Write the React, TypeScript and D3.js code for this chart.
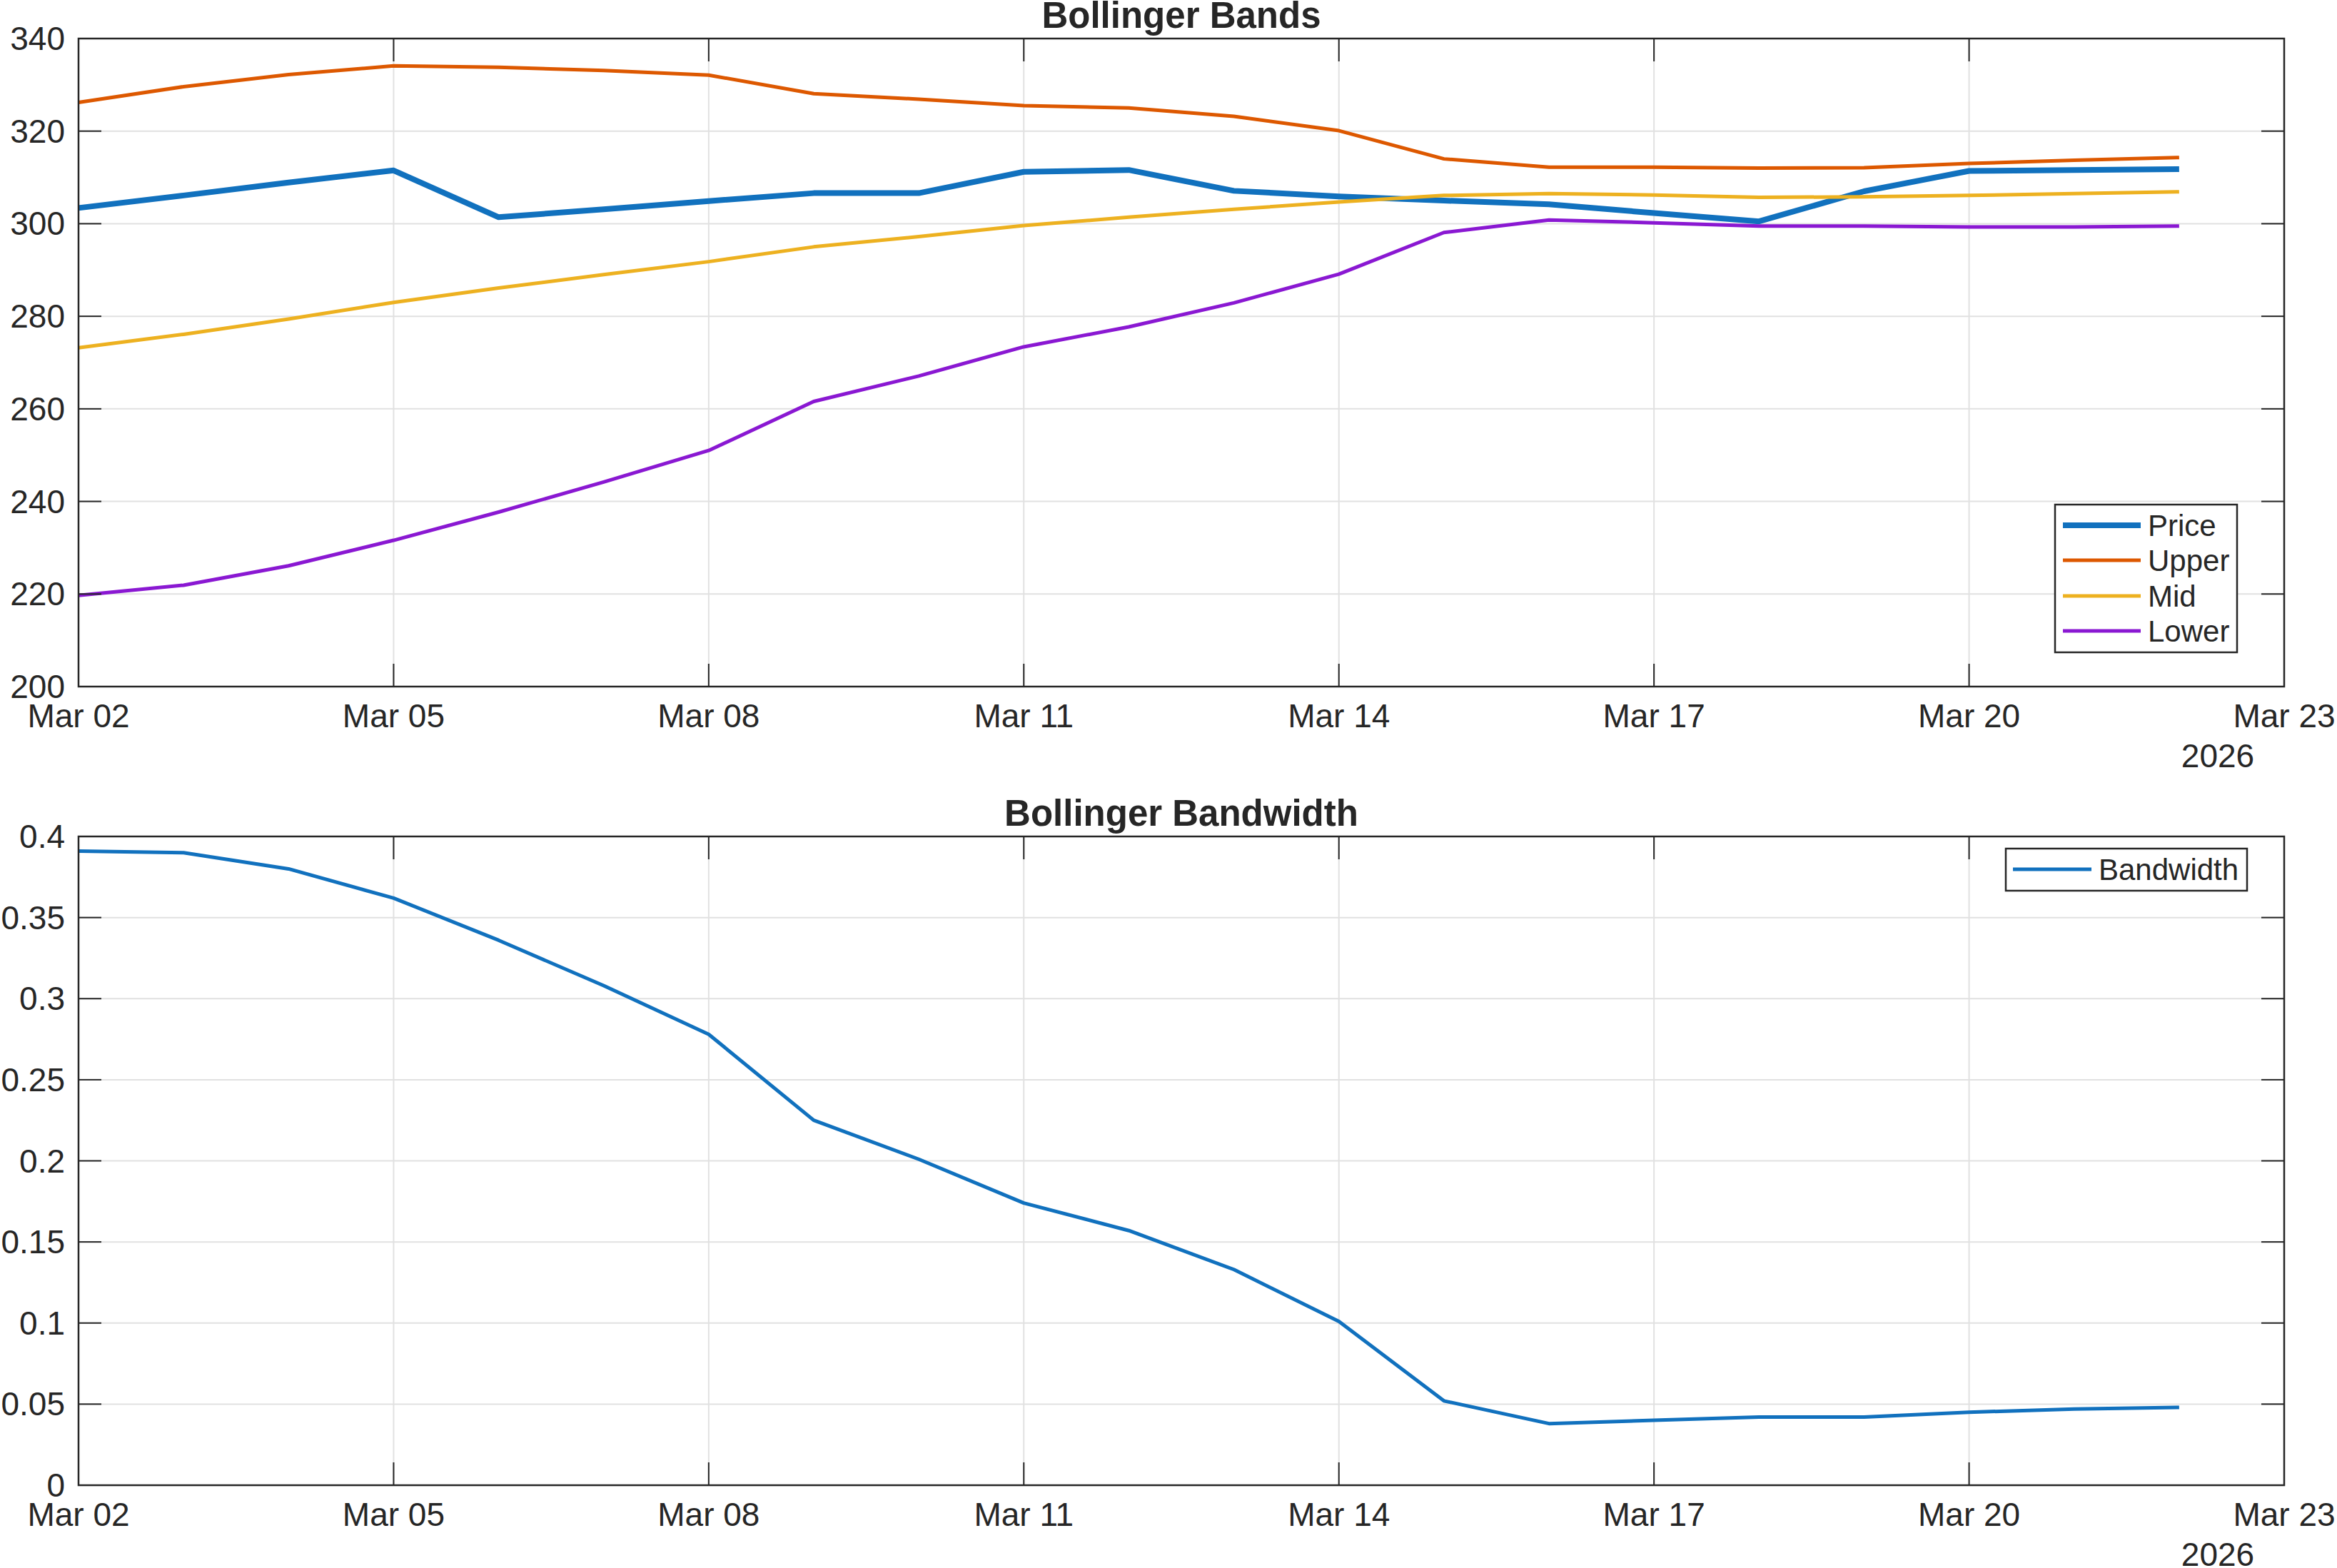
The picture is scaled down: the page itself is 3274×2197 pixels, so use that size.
import * as d3 from "d3";

const W = 3274;
const H = 2197;

// daily observations, Mar 02 .. Mar 22 2026
const days = [2, 3, 4, 5, 6, 7, 8, 9, 10, 11, 12, 13, 14, 15, 16, 17, 18, 19, 20, 21, 22];
const price = [303.4, 306.1, 308.9, 311.5, 301.4, 303.1, 304.9, 306.6, 306.6, 311.2, 311.6, 307.1, 305.9, 305.0, 304.2, 302.3, 300.5, 307.0, 311.4, 311.6, 311.8];
const upper = [326.2, 329.6, 332.2, 334.1, 333.8, 333.1, 332.1, 328.1, 326.9, 325.5, 325.0, 323.2, 320.1, 314.0, 312.2, 312.2, 312.0, 312.1, 313.0, 313.7, 314.3];
const mid = [273.2, 276.1, 279.4, 283.0, 286.1, 289.0, 291.8, 295.0, 297.2, 299.6, 301.4, 303.1, 304.7, 306.1, 306.5, 306.2, 305.7, 305.8, 306.1, 306.5, 306.9];
const lower = [219.7, 221.9, 226.1, 231.6, 237.7, 244.2, 251.0, 261.6, 267.1, 273.4, 277.7, 282.9, 289.1, 298.1, 300.8, 300.2, 299.5, 299.5, 299.3, 299.3, 299.5];
const bandwidth = [0.391, 0.390, 0.380, 0.362, 0.336, 0.308, 0.278, 0.225, 0.201, 0.174, 0.157, 0.133, 0.101, 0.052, 0.038, 0.040, 0.042, 0.042, 0.045, 0.047, 0.048];

const xTickDays = [2, 5, 8, 11, 14, 17, 20, 23];
const priceTicks = [200, 220, 240, 260, 280, 300, 320, 340];
const bwTicks = [0, 0.05, 0.1, 0.15, 0.2, 0.25, 0.3, 0.35, 0.4];
const yearLabel = "2026";

const C = {
  blue: "#1171be",
  orange: "#dd5800",
  yellow: "#edb120",
  purple: "#8a18d2",
  axis: "#262626",
  grid: "#e1e1e1",
};
const FONT = "'Liberation Sans', Arial, Helvetica, sans-serif";

const toDate = (d: number) => new Date(2026, 2, d);

const x = d3.scaleTime().domain([toDate(2), toDate(23)]).range([110, 3200]);
const fmt = d3.timeFormat("%b %d");

type Series = { name: string; values: number[]; color: string; width: number };

function Panel(props: {
  top: number;
  bottom: number;
  domain: [number, number];
  ticks: number[];
  tickFmt: (v: number) => string;
  title: string;
  series: Series[];
  legend: { x0: number; y0: number; x1: number; y1: number; lineX0: number; lineX1: number; textX: number; rows: number[] };
}) {
  const { top, bottom, domain, ticks, tickFmt, title, series, legend } = props;
  const y = d3.scaleLinear().domain(domain).range([bottom, top]);
  const [x0, x1] = x.range();
  const tl = 32;
  const line = (vals: number[]) =>
    d3
      .line<number>()
      .x((_, i) => x(toDate(days[i])))
      .y((v) => y(v))(vals) || "";

  return (
    <g>
      {/* grid */}
      {xTickDays.map((d) => (
        <line key={"gx" + d} x1={x(toDate(d))} x2={x(toDate(d))} y1={top} y2={bottom} stroke={C.grid} strokeWidth={2} />
      ))}
      {ticks.map((t) => (
        <line key={"gy" + t} x1={x0} x2={x1} y1={y(t)} y2={y(t)} stroke={C.grid} strokeWidth={2} />
      ))}

      {/* data */}
      {series.map((s) => (
        <path key={s.name} d={line(s.values)} fill="none" stroke={s.color} strokeWidth={s.width} strokeLinejoin="round" />
      ))}

      {/* box + ticks */}
      <rect x={x0} y={top} width={x1 - x0} height={bottom - top} fill="none" stroke={C.axis} strokeWidth={2.5} />
      {xTickDays.map((d) => (
        <g key={"tx" + d}>
          <line x1={x(toDate(d))} x2={x(toDate(d))} y1={bottom} y2={bottom - tl} stroke={C.axis} strokeWidth={2} />
          <line x1={x(toDate(d))} x2={x(toDate(d))} y1={top} y2={top + tl} stroke={C.axis} strokeWidth={2} />
          <text x={x(toDate(d))} y={bottom + 57} textAnchor="middle" fontSize={46} fill={C.axis} fontFamily={FONT}>
            {fmt(toDate(d))}
          </text>
        </g>
      ))}
      {ticks.map((t) => (
        <g key={"ty" + t}>
          <line x1={x0} x2={x0 + tl} y1={y(t)} y2={y(t)} stroke={C.axis} strokeWidth={2} />
          <line x1={x1} x2={x1 - tl} y1={y(t)} y2={y(t)} stroke={C.axis} strokeWidth={2} />
          <text x={x0 - 19} y={y(t) + 16} textAnchor="end" fontSize={46} fill={C.axis} fontFamily={FONT}>
            {tickFmt(t)}
          </text>
        </g>
      ))}
      <text x={3107} y={bottom + 113} textAnchor="middle" fontSize={46} fill={C.axis} fontFamily={FONT}>
        {yearLabel}
      </text>
      <text x={(x0 + x1) / 2} y={top - 15} textAnchor="middle" fontSize={51} fontWeight="bold" fill={C.axis} fontFamily={FONT}>
        {title}
      </text>

      {/* legend */}
      <rect x={legend.x0} y={legend.y0} width={legend.x1 - legend.x0} height={legend.y1 - legend.y0} fill="#fff" stroke={C.axis} strokeWidth={2.5} />
      {series.map((s, i) => (
        <g key={"lg" + s.name}>
          <line x1={legend.lineX0} x2={legend.lineX1} y1={legend.rows[i]} y2={legend.rows[i]} stroke={s.color} strokeWidth={s.width} />
          <text x={legend.textX} y={legend.rows[i] + 15} fontSize={42} fill={C.axis} fontFamily={FONT}>
            {s.name}
          </text>
        </g>
      ))}
    </g>
  );
}

export default function App() {
  return (
    <svg width={W} height={H} style={{ position: "absolute", left: 0, top: 0, background: "#fff" }}>
      <rect width={W} height={H} fill="#fff" />
      <Panel
        top={54}
        bottom={962}
        domain={[200, 340]}
        ticks={priceTicks}
        tickFmt={(v) => String(v)}
        title="Bollinger Bands"
        series={[
          { name: "Price", values: price, color: C.blue, width: 8 },
          { name: "Upper", values: upper, color: C.orange, width: 5 },
          { name: "Mid", values: mid, color: C.yellow, width: 5 },
          { name: "Lower", values: lower, color: C.purple, width: 5 },
        ]}
        legend={{ x0: 2879, y0: 707, x1: 3134, y1: 914, lineX0: 2890, lineX1: 2999, textX: 3009, rows: [736, 785, 835, 884] }}
      />
      <Panel
        top={1172}
        bottom={2081}
        domain={[0, 0.4]}
        ticks={bwTicks}
        tickFmt={(v) => String(+v.toFixed(2))}
        title="Bollinger Bandwidth"
        series={[{ name: "Bandwidth", values: bandwidth, color: C.blue, width: 5 }]}
        legend={{ x0: 2810, y0: 1189, x1: 3148, y1: 1248, lineX0: 2820, lineX1: 2930, textX: 2940, rows: [1218] }}
      />
    </svg>
  );
}
